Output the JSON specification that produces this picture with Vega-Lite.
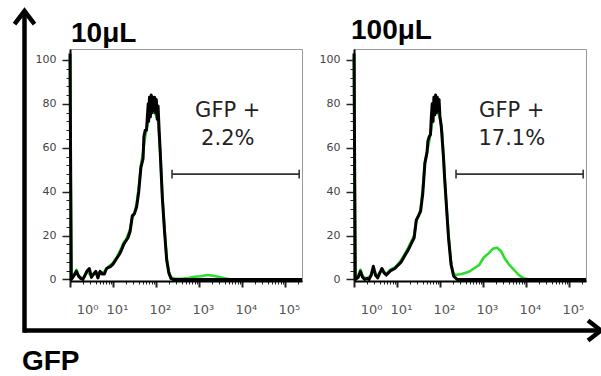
{
  "$schema": "https://vega.github.io/schema/vega-lite/v6.json",
  "padding": {"left": 5, "top": 1, "right": 0, "bottom": 0},
  "bounds": "flush",
  "spacing": 52,
  "config": {
    "view": {"stroke": "#999", "strokeWidth": 1},
    "font": "DejaVu Sans",
    "axis": {"labelOverlap": false},
    "title": {"font": "Liberation Sans", "fontSize": 28, "fontWeight": "bold", "color": "black", "anchor": "start", "frame": "group", "dx": 1, "offset": 4}
  },
  "datasets": {
    "hist": [
      {"panel": "10μL", "tube": "Control", "GFP": 1, "count": 103},
      {"panel": "10μL", "tube": "Control", "GFP": 1.072, "count": 0},
      {"panel": "10μL", "tube": "Control", "GFP": 1.259, "count": 2},
      {"panel": "10μL", "tube": "Control", "GFP": 1.413, "count": 3.7},
      {"panel": "10μL", "tube": "Control", "GFP": 1.585, "count": 1.5},
      {"panel": "10μL", "tube": "Control", "GFP": 1.778, "count": 0.5},
      {"panel": "10μL", "tube": "Control", "GFP": 1.995, "count": 0},
      {"panel": "10μL", "tube": "Control", "GFP": 2.239, "count": 2},
      {"panel": "10μL", "tube": "Control", "GFP": 2.512, "count": 4},
      {"panel": "10μL", "tube": "Control", "GFP": 2.818, "count": 5},
      {"panel": "10μL", "tube": "Control", "GFP": 3.162, "count": 1},
      {"panel": "10μL", "tube": "Control", "GFP": 3.548, "count": 2.5},
      {"panel": "10μL", "tube": "Control", "GFP": 3.981, "count": 3.7},
      {"panel": "10μL", "tube": "Control", "GFP": 4.467, "count": 0.7},
      {"panel": "10μL", "tube": "Control", "GFP": 5.012, "count": 3.7},
      {"panel": "10μL", "tube": "Control", "GFP": 5.623, "count": 2.5},
      {"panel": "10μL", "tube": "Control", "GFP": 6.31, "count": 2.5},
      {"panel": "10μL", "tube": "Control", "GFP": 7.079, "count": 5},
      {"panel": "10μL", "tube": "Control", "GFP": 7.943, "count": 5.5},
      {"panel": "10μL", "tube": "Control", "GFP": 8.913, "count": 6},
      {"panel": "10μL", "tube": "Control", "GFP": 10, "count": 7},
      {"panel": "10μL", "tube": "Control", "GFP": 11.22, "count": 8.5},
      {"panel": "10μL", "tube": "Control", "GFP": 12.59, "count": 10},
      {"panel": "10μL", "tube": "Control", "GFP": 14.13, "count": 11.5},
      {"panel": "10μL", "tube": "Control", "GFP": 15.85, "count": 13.5},
      {"panel": "10μL", "tube": "Control", "GFP": 17.78, "count": 16},
      {"panel": "10μL", "tube": "Control", "GFP": 19.95, "count": 17.5},
      {"panel": "10μL", "tube": "Control", "GFP": 22.39, "count": 19},
      {"panel": "10μL", "tube": "Control", "GFP": 25.12, "count": 22},
      {"panel": "10μL", "tube": "Control", "GFP": 28.18, "count": 29},
      {"panel": "10μL", "tube": "Control", "GFP": 31.62, "count": 30},
      {"panel": "10μL", "tube": "Control", "GFP": 35.48, "count": 33},
      {"panel": "10μL", "tube": "Control", "GFP": 39.81, "count": 40},
      {"panel": "10μL", "tube": "Control", "GFP": 44.67, "count": 51},
      {"panel": "10μL", "tube": "Control", "GFP": 50.12, "count": 55},
      {"panel": "10μL", "tube": "Control", "GFP": 52.48, "count": 65},
      {"panel": "10μL", "tube": "Control", "GFP": 56.23, "count": 68},
      {"panel": "10μL", "tube": "Control", "GFP": 60.26, "count": 68},
      {"panel": "10μL", "tube": "Control", "GFP": 63.1, "count": 74},
      {"panel": "10μL", "tube": "Control", "GFP": 66.07, "count": 80},
      {"panel": "10μL", "tube": "Control", "GFP": 67.61, "count": 72},
      {"panel": "10μL", "tube": "Control", "GFP": 70.79, "count": 83},
      {"panel": "10μL", "tube": "Control", "GFP": 74.13, "count": 74},
      {"panel": "10μL", "tube": "Control", "GFP": 77.62, "count": 84},
      {"panel": "10μL", "tube": "Control", "GFP": 81.28, "count": 76},
      {"panel": "10μL", "tube": "Control", "GFP": 85.11, "count": 83},
      {"panel": "10μL", "tube": "Control", "GFP": 89.13, "count": 77},
      {"panel": "10μL", "tube": "Control", "GFP": 93.33, "count": 83},
      {"panel": "10μL", "tube": "Control", "GFP": 97.72, "count": 76},
      {"panel": "10μL", "tube": "Control", "GFP": 102.3, "count": 82},
      {"panel": "10μL", "tube": "Control", "GFP": 107.2, "count": 73},
      {"panel": "10μL", "tube": "Control", "GFP": 112.2, "count": 79},
      {"panel": "10μL", "tube": "Control", "GFP": 117.5, "count": 70},
      {"panel": "10μL", "tube": "Control", "GFP": 125.9, "count": 58},
      {"panel": "10μL", "tube": "Control", "GFP": 141.3, "count": 37},
      {"panel": "10μL", "tube": "Control", "GFP": 158.5, "count": 22},
      {"panel": "10μL", "tube": "Control", "GFP": 177.8, "count": 9},
      {"panel": "10μL", "tube": "Control", "GFP": 199.5, "count": 3},
      {"panel": "10μL", "tube": "Control", "GFP": 223.9, "count": 0.5},
      {"panel": "10μL", "tube": "Control", "GFP": 251.2, "count": 0},
      {"panel": "10μL", "tube": "Control", "GFP": 251189, "count": 0},

      {"panel": "10μL", "tube": "Sample", "GFP": 1, "count": 101},
      {"panel": "10μL", "tube": "Sample", "GFP": 1.072, "count": 0},
      {"panel": "10μL", "tube": "Sample", "GFP": 1.259, "count": 2.5},
      {"panel": "10μL", "tube": "Sample", "GFP": 1.413, "count": 4.5},
      {"panel": "10μL", "tube": "Sample", "GFP": 1.585, "count": 1.5},
      {"panel": "10μL", "tube": "Sample", "GFP": 1.995, "count": 0.3},
      {"panel": "10μL", "tube": "Sample", "GFP": 2.512, "count": 3.5},
      {"panel": "10μL", "tube": "Sample", "GFP": 3.162, "count": 1.5},
      {"panel": "10μL", "tube": "Sample", "GFP": 3.981, "count": 3},
      {"panel": "10μL", "tube": "Sample", "GFP": 5.012, "count": 3},
      {"panel": "10μL", "tube": "Sample", "GFP": 6.31, "count": 3.5},
      {"panel": "10μL", "tube": "Sample", "GFP": 7.943, "count": 6},
      {"panel": "10μL", "tube": "Sample", "GFP": 10, "count": 7.5},
      {"panel": "10μL", "tube": "Sample", "GFP": 12.59, "count": 10.5},
      {"panel": "10μL", "tube": "Sample", "GFP": 15.85, "count": 14.5},
      {"panel": "10μL", "tube": "Sample", "GFP": 17.78, "count": 17},
      {"panel": "10μL", "tube": "Sample", "GFP": 19.95, "count": 18},
      {"panel": "10μL", "tube": "Sample", "GFP": 25.12, "count": 23},
      {"panel": "10μL", "tube": "Sample", "GFP": 28.18, "count": 28},
      {"panel": "10μL", "tube": "Sample", "GFP": 31.62, "count": 30},
      {"panel": "10μL", "tube": "Sample", "GFP": 35.48, "count": 34.5},
      {"panel": "10μL", "tube": "Sample", "GFP": 39.81, "count": 42},
      {"panel": "10μL", "tube": "Sample", "GFP": 44.67, "count": 52},
      {"panel": "10μL", "tube": "Sample", "GFP": 50.12, "count": 58},
      {"panel": "10μL", "tube": "Sample", "GFP": 56.23, "count": 65},
      {"panel": "10μL", "tube": "Sample", "GFP": 63.1, "count": 70},
      {"panel": "10μL", "tube": "Sample", "GFP": 70.79, "count": 78},
      {"panel": "10μL", "tube": "Sample", "GFP": 79.43, "count": 77},
      {"panel": "10μL", "tube": "Sample", "GFP": 89.13, "count": 76},
      {"panel": "10μL", "tube": "Sample", "GFP": 100, "count": 75},
      {"panel": "10μL", "tube": "Sample", "GFP": 112.2, "count": 72},
      {"panel": "10μL", "tube": "Sample", "GFP": 125.9, "count": 58},
      {"panel": "10μL", "tube": "Sample", "GFP": 141.3, "count": 38},
      {"panel": "10μL", "tube": "Sample", "GFP": 158.5, "count": 23},
      {"panel": "10μL", "tube": "Sample", "GFP": 177.8, "count": 10},
      {"panel": "10μL", "tube": "Sample", "GFP": 199.5, "count": 3.5},
      {"panel": "10μL", "tube": "Sample", "GFP": 223.9, "count": 1},
      {"panel": "10μL", "tube": "Sample", "GFP": 281.8, "count": 0.3},
      {"panel": "10μL", "tube": "Sample", "GFP": 398.1, "count": 0.3},
      {"panel": "10μL", "tube": "Sample", "GFP": 562.3, "count": 0.6},
      {"panel": "10μL", "tube": "Sample", "GFP": 794.3, "count": 1.2},
      {"panel": "10μL", "tube": "Sample", "GFP": 1122, "count": 1.5},
      {"panel": "10μL", "tube": "Sample", "GFP": 1585, "count": 2},
      {"panel": "10μL", "tube": "Sample", "GFP": 1995, "count": 1.8},
      {"panel": "10μL", "tube": "Sample", "GFP": 2818, "count": 1.2},
      {"panel": "10μL", "tube": "Sample", "GFP": 3981, "count": 0.5},
      {"panel": "10μL", "tube": "Sample", "GFP": 5623, "count": 0},
      {"panel": "10μL", "tube": "Sample", "GFP": 251189, "count": 0},

      {"panel": "100μL", "tube": "Control", "GFP": 1, "count": 103},
      {"panel": "100μL", "tube": "Control", "GFP": 1.072, "count": 0},
      {"panel": "100μL", "tube": "Control", "GFP": 1.259, "count": 1},
      {"panel": "100μL", "tube": "Control", "GFP": 1.413, "count": 3.7},
      {"panel": "100μL", "tube": "Control", "GFP": 1.585, "count": 1},
      {"panel": "100μL", "tube": "Control", "GFP": 1.778, "count": 0},
      {"panel": "100μL", "tube": "Control", "GFP": 1.995, "count": 0.5},
      {"panel": "100μL", "tube": "Control", "GFP": 2.239, "count": 0},
      {"panel": "100μL", "tube": "Control", "GFP": 2.512, "count": 2},
      {"panel": "100μL", "tube": "Control", "GFP": 2.818, "count": 6},
      {"panel": "100μL", "tube": "Control", "GFP": 3.162, "count": 2},
      {"panel": "100μL", "tube": "Control", "GFP": 3.548, "count": 0.7},
      {"panel": "100μL", "tube": "Control", "GFP": 3.981, "count": 3},
      {"panel": "100μL", "tube": "Control", "GFP": 4.467, "count": 5},
      {"panel": "100μL", "tube": "Control", "GFP": 5.012, "count": 3},
      {"panel": "100μL", "tube": "Control", "GFP": 5.623, "count": 2},
      {"panel": "100μL", "tube": "Control", "GFP": 6.31, "count": 3},
      {"panel": "100μL", "tube": "Control", "GFP": 7.079, "count": 4},
      {"panel": "100μL", "tube": "Control", "GFP": 7.943, "count": 4.5},
      {"panel": "100μL", "tube": "Control", "GFP": 8.913, "count": 5},
      {"panel": "100μL", "tube": "Control", "GFP": 10, "count": 6},
      {"panel": "100μL", "tube": "Control", "GFP": 11.22, "count": 7},
      {"panel": "100μL", "tube": "Control", "GFP": 12.59, "count": 8},
      {"panel": "100μL", "tube": "Control", "GFP": 14.13, "count": 9.8},
      {"panel": "100μL", "tube": "Control", "GFP": 15.85, "count": 11.5},
      {"panel": "100μL", "tube": "Control", "GFP": 17.78, "count": 13},
      {"panel": "100μL", "tube": "Control", "GFP": 19.95, "count": 15},
      {"panel": "100μL", "tube": "Control", "GFP": 22.39, "count": 17},
      {"panel": "100μL", "tube": "Control", "GFP": 25.12, "count": 19},
      {"panel": "100μL", "tube": "Control", "GFP": 28.18, "count": 27},
      {"panel": "100μL", "tube": "Control", "GFP": 31.62, "count": 29},
      {"panel": "100μL", "tube": "Control", "GFP": 35.48, "count": 31},
      {"panel": "100μL", "tube": "Control", "GFP": 39.81, "count": 39},
      {"panel": "100μL", "tube": "Control", "GFP": 44.67, "count": 53},
      {"panel": "100μL", "tube": "Control", "GFP": 50.12, "count": 58},
      {"panel": "100μL", "tube": "Control", "GFP": 52.48, "count": 63},
      {"panel": "100μL", "tube": "Control", "GFP": 56.23, "count": 65},
      {"panel": "100μL", "tube": "Control", "GFP": 60.26, "count": 66},
      {"panel": "100μL", "tube": "Control", "GFP": 63.1, "count": 74},
      {"panel": "100μL", "tube": "Control", "GFP": 66.07, "count": 80},
      {"panel": "100μL", "tube": "Control", "GFP": 69.18, "count": 72},
      {"panel": "100μL", "tube": "Control", "GFP": 72.44, "count": 83},
      {"panel": "100μL", "tube": "Control", "GFP": 75.86, "count": 75},
      {"panel": "100μL", "tube": "Control", "GFP": 79.43, "count": 84},
      {"panel": "100μL", "tube": "Control", "GFP": 83.18, "count": 76},
      {"panel": "100μL", "tube": "Control", "GFP": 87.1, "count": 83},
      {"panel": "100μL", "tube": "Control", "GFP": 91.2, "count": 77},
      {"panel": "100μL", "tube": "Control", "GFP": 95.5, "count": 82},
      {"panel": "100μL", "tube": "Control", "GFP": 100, "count": 74},
      {"panel": "100μL", "tube": "Control", "GFP": 107.2, "count": 70},
      {"panel": "100μL", "tube": "Control", "GFP": 114.8, "count": 62},
      {"panel": "100μL", "tube": "Control", "GFP": 121.6, "count": 55},
      {"panel": "100μL", "tube": "Control", "GFP": 128.8, "count": 46},
      {"panel": "100μL", "tube": "Control", "GFP": 138, "count": 37},
      {"panel": "100μL", "tube": "Control", "GFP": 158.5, "count": 19},
      {"panel": "100μL", "tube": "Control", "GFP": 182, "count": 6.7},
      {"panel": "100μL", "tube": "Control", "GFP": 208.9, "count": 1.5},
      {"panel": "100μL", "tube": "Control", "GFP": 251.2, "count": 0},
      {"panel": "100μL", "tube": "Control", "GFP": 251189, "count": 0},

      {"panel": "100μL", "tube": "Sample", "GFP": 1, "count": 101},
      {"panel": "100μL", "tube": "Sample", "GFP": 1.072, "count": 0},
      {"panel": "100μL", "tube": "Sample", "GFP": 1.259, "count": 2},
      {"panel": "100μL", "tube": "Sample", "GFP": 1.413, "count": 4.5},
      {"panel": "100μL", "tube": "Sample", "GFP": 1.585, "count": 1.5},
      {"panel": "100μL", "tube": "Sample", "GFP": 1.995, "count": 0.3},
      {"panel": "100μL", "tube": "Sample", "GFP": 2.512, "count": 2},
      {"panel": "100μL", "tube": "Sample", "GFP": 2.818, "count": 5},
      {"panel": "100μL", "tube": "Sample", "GFP": 3.548, "count": 1},
      {"panel": "100μL", "tube": "Sample", "GFP": 4.467, "count": 4.5},
      {"panel": "100μL", "tube": "Sample", "GFP": 5.623, "count": 2.5},
      {"panel": "100μL", "tube": "Sample", "GFP": 7.079, "count": 4.5},
      {"panel": "100μL", "tube": "Sample", "GFP": 8.913, "count": 5.5},
      {"panel": "100μL", "tube": "Sample", "GFP": 11.22, "count": 7.5},
      {"panel": "100μL", "tube": "Sample", "GFP": 14.13, "count": 10.5},
      {"panel": "100μL", "tube": "Sample", "GFP": 17.78, "count": 14},
      {"panel": "100μL", "tube": "Sample", "GFP": 19.95, "count": 16},
      {"panel": "100μL", "tube": "Sample", "GFP": 25.12, "count": 20},
      {"panel": "100μL", "tube": "Sample", "GFP": 28.18, "count": 27},
      {"panel": "100μL", "tube": "Sample", "GFP": 31.62, "count": 29},
      {"panel": "100μL", "tube": "Sample", "GFP": 35.48, "count": 32},
      {"panel": "100μL", "tube": "Sample", "GFP": 39.81, "count": 41},
      {"panel": "100μL", "tube": "Sample", "GFP": 44.67, "count": 53},
      {"panel": "100μL", "tube": "Sample", "GFP": 50.12, "count": 58},
      {"panel": "100μL", "tube": "Sample", "GFP": 56.23, "count": 63},
      {"panel": "100μL", "tube": "Sample", "GFP": 63.1, "count": 69},
      {"panel": "100μL", "tube": "Sample", "GFP": 70.79, "count": 76},
      {"panel": "100μL", "tube": "Sample", "GFP": 79.43, "count": 77},
      {"panel": "100μL", "tube": "Sample", "GFP": 89.13, "count": 76},
      {"panel": "100μL", "tube": "Sample", "GFP": 100, "count": 74},
      {"panel": "100μL", "tube": "Sample", "GFP": 112.2, "count": 67},
      {"panel": "100μL", "tube": "Sample", "GFP": 125.9, "count": 50},
      {"panel": "100μL", "tube": "Sample", "GFP": 141.3, "count": 34},
      {"panel": "100μL", "tube": "Sample", "GFP": 158.5, "count": 20},
      {"panel": "100μL", "tube": "Sample", "GFP": 177.8, "count": 9},
      {"panel": "100μL", "tube": "Sample", "GFP": 199.5, "count": 3.5},
      {"panel": "100μL", "tube": "Sample", "GFP": 223.9, "count": 2},
      {"panel": "100μL", "tube": "Sample", "GFP": 323.6, "count": 2.5},
      {"panel": "100μL", "tube": "Sample", "GFP": 467.7, "count": 3.5},
      {"panel": "100μL", "tube": "Sample", "GFP": 616.6, "count": 5},
      {"panel": "100μL", "tube": "Sample", "GFP": 812.8, "count": 6.5},
      {"panel": "100μL", "tube": "Sample", "GFP": 1047, "count": 10},
      {"panel": "100μL", "tube": "Sample", "GFP": 1380, "count": 12},
      {"panel": "100μL", "tube": "Sample", "GFP": 1698, "count": 14},
      {"panel": "100μL", "tube": "Sample", "GFP": 2138, "count": 14.5},
      {"panel": "100μL", "tube": "Sample", "GFP": 2630, "count": 13},
      {"panel": "100μL", "tube": "Sample", "GFP": 3236, "count": 9.5},
      {"panel": "100μL", "tube": "Sample", "GFP": 3981, "count": 7},
      {"panel": "100μL", "tube": "Sample", "GFP": 5248, "count": 4.5},
      {"panel": "100μL", "tube": "Sample", "GFP": 6918, "count": 2},
      {"panel": "100μL", "tube": "Sample", "GFP": 8913, "count": 0.5},
      {"panel": "100μL", "tube": "Sample", "GFP": 12300, "count": 0},
      {"panel": "100μL", "tube": "Sample", "GFP": 251189, "count": 0}
    ],
    "gates": [
      {"panel": "10μL", "gate": "GFP +", "gateMin": 237, "gateMax": 216000, "percent": "2.2%"},
      {"panel": "100μL", "gate": "GFP +", "gateMin": 237, "gateMax": 216000, "percent": "17.1%"}
    ],
    "axisLabel": [
      {"label": "GFP"}
    ]
  },
  "hconcat": [
    {
      "width": 232,
      "height": 232,
      "title": {"text": "10μL", "offset": -46},
      "layer": [
        {
          "data": {"name": "axisLabel"},
          "mark": {"type": "rule", "color": "black", "strokeWidth": 4.5, "strokeCap": "butt"},
          "encoding": {
            "x": {"datum": 0.0873, "type": "quantitative", "scale": {"type": "log", "domain": [1, 251189], "nice": false}},
            "y": {"datum": 122.3, "type": "quantitative", "scale": {"domain": [-0.7, 105], "nice": false, "zero": false}},
            "y2": {"datum": -24.3}
          }
        },
        {
          "data": {"name": "axisLabel"},
          "mark": {"type": "rule", "color": "black", "strokeWidth": 4.5, "strokeCap": "butt"},
          "encoding": {
            "x": {"datum": 0.0873, "type": "quantitative"},
            "x2": {"datum": 2.29e12},
            "y": {"datum": -23.25, "type": "quantitative"}
          }
        },
        {
          "data": {"name": "axisLabel"},
          "mark": {"type": "point", "shape": "M-1,1.3L0,0L1,1.3", "size": 400, "filled": false, "stroke": "black", "strokeWidth": 4.5, "opacity": 1, "strokeJoin": "miter"},
          "encoding": {
            "x": {"datum": 0.0873, "type": "quantitative"},
            "y": {"datum": 122.3, "type": "quantitative"}
          }
        },
        {
          "data": {"name": "axisLabel"},
          "mark": {"type": "point", "shape": "M-1.3,-1L0,0L-1.3,1", "size": 400, "filled": false, "stroke": "black", "strokeWidth": 4.5, "opacity": 1, "strokeJoin": "miter"},
          "encoding": {
            "x": {"datum": 2.29e12, "type": "quantitative"},
            "y": {"datum": -23.25, "type": "quantitative"}
          }
        },
        {
          "data": {"name": "axisLabel"},
          "mark": {"type": "text", "font": "Liberation Sans", "fontSize": 28, "fontWeight": "bold", "color": "black", "align": "left", "baseline": "alphabetic"},
          "encoding": {
            "x": {"datum": 0.0763, "type": "quantitative"},
            "y": {"datum": -41.4, "type": "quantitative"},
            "text": {"field": "label"}
          }
        },
        {
          "data": {"name": "hist"},
          "transform": [{"filter": "datum.panel == '10μL' && datum.tube == 'Sample'"}],
          "mark": {"type": "line", "color": "#2edc2e", "strokeWidth": 2.6, "strokeJoin": "round"},
          "encoding": {
            "x": {"field": "GFP", "type": "quantitative", "scale": {"type": "log", "domain": [1, 251189], "nice": false},
              "axis": {"title": null, "grid": false, "tickCount": 200, "values": [1,2,3,4,5,6,7,8,9,10,20,30,40,50,60,70,80,90,100,200,300,400,500,600,700,800,900,1000,2000,3000,4000,5000,6000,7000,8000,9000,10000,20000,30000,40000,50000,60000,70000,80000,90000,100000,200000],
                "labelExpr": "datum.value == 1 ? '10⁰' : datum.value == 10 ? '10¹' : datum.value == 100 ? '10²' : datum.value == 1000 ? '10³' : datum.value == 10000 ? '10⁴' : datum.value == 100000 ? '10⁵' : ''",
                "labelOverlap": false, "labelFlush": false, "labelBound": false,
                "labelOffset": {"condition": {"test": "datum.value == 1", "value": 17}, "value": 4},
                "tickSize": {"condition": {"test": "datum.value == 1 || datum.value == 10 || datum.value == 100 || datum.value == 1000 || datum.value == 10000 || datum.value == 100000", "value": 6}, "value": 3},
                "tickWidth": {"condition": {"test": "datum.value == 1 || datum.value == 10 || datum.value == 100 || datum.value == 1000 || datum.value == 10000 || datum.value == 100000", "value": 2}, "value": 1},
                "tickColor": "#222", "domainColor": "black", "domainWidth": 2,
                "labelFont": "DejaVu Sans", "labelFontSize": 13, "labelColor": "#555", "labelPadding": 16}},
            "y": {"field": "count", "type": "quantitative", "scale": {"domain": [-0.7, 105], "nice": false, "zero": false},
              "axis": {"title": null, "grid": false, "tickCount": 200, "format": "d", "values": [0,4,8,12,16,20,24,28,32,36,40,44,48,52,56,60,64,68,72,76,80,84,88,92,96,100],
                "labelExpr": "(datum.value == 0 || datum.value == 20 || datum.value == 40 || datum.value == 60 || datum.value == 80 || datum.value == 100) ? datum.label : ''",
                "labelFontSize": {"condition": {"test": "datum.value == 0 || datum.value == 20 || datum.value == 40 || datum.value == 60 || datum.value == 80 || datum.value == 100", "value": 11}, "value": 0},
                "labelOverlap": false, "labelFlush": false, "labelBound": false,
                "tickSize": {"condition": {"test": "datum.value == 0 || datum.value == 20 || datum.value == 40 || datum.value == 60 || datum.value == 80 || datum.value == 100", "value": 8}, "value": 4},
                "tickWidth": {"condition": {"test": "datum.value == 0 || datum.value == 20 || datum.value == 40 || datum.value == 60 || datum.value == 80 || datum.value == 100", "value": 1.5}, "value": 1},
                "tickColor": "#222", "domainColor": "black", "domainWidth": 2,
                "labelFont": "DejaVu Sans", "labelColor": "#444", "labelPadding": 6}}
          }
        },
        {
          "data": {"name": "hist"},
          "transform": [{"filter": "datum.panel == '10μL' && datum.tube == 'Control'"}],
          "mark": {"type": "line", "color": "black", "strokeWidth": 3, "strokeJoin": "round"},
          "encoding": {
            "x": {"field": "GFP", "type": "quantitative"},
            "y": {"field": "count", "type": "quantitative"}
          }
        },
        {
          "data": {"name": "gates"},
          "transform": [{"filter": "datum.panel == '10μL'"}],
          "mark": {"type": "rule", "color": "#333", "strokeWidth": 1.6},
          "encoding": {
            "x": {"field": "gateMin", "type": "quantitative"},
            "x2": {"field": "gateMax"},
            "y": {"datum": 48, "type": "quantitative"}
          }
        },
        {
          "data": {"name": "gates"},
          "transform": [{"filter": "datum.panel == '10μL'"}],
          "mark": {"type": "rule", "color": "#333", "strokeWidth": 1.6},
          "encoding": {
            "x": {"field": "gateMin", "type": "quantitative"},
            "y": {"datum": 46, "type": "quantitative"},
            "y2": {"datum": 50}
          }
        },
        {
          "data": {"name": "gates"},
          "transform": [{"filter": "datum.panel == '10μL'"}],
          "mark": {"type": "rule", "color": "#333", "strokeWidth": 1.6},
          "encoding": {
            "x": {"field": "gateMax", "type": "quantitative"},
            "y": {"datum": 46, "type": "quantitative"},
            "y2": {"datum": 50}
          }
        },
        {
          "data": {"name": "gates"},
          "transform": [{"filter": "datum.panel == '10μL'"}],
          "mark": {"type": "text", "font": "DejaVu Sans", "fontSize": 21, "color": "#222", "align": "center", "baseline": "alphabetic"},
          "encoding": {
            "x": {"datum": 4700, "type": "quantitative"},
            "y": {"datum": 74, "type": "quantitative"},
            "text": {"field": "gate"}
          }
        },
        {
          "data": {"name": "gates"},
          "transform": [{"filter": "datum.panel == '10μL'"}],
          "mark": {"type": "text", "font": "DejaVu Sans", "fontSize": 21, "color": "#222", "align": "center", "baseline": "alphabetic"},
          "encoding": {
            "x": {"datum": 4700, "type": "quantitative"},
            "y": {"datum": 61.2, "type": "quantitative"},
            "text": {"field": "percent"}
          }
        }
      ]
    },
    {
      "width": 232,
      "height": 232,
      "title": {"text": "100μL", "dx": -3},
      "layer": [
        {
          "data": {"name": "hist"},
          "transform": [{"filter": "datum.panel == '100μL' && datum.tube == 'Sample'"}],
          "mark": {"type": "line", "color": "#2edc2e", "strokeWidth": 2.6, "strokeJoin": "round"},
          "encoding": {
            "x": {"field": "GFP", "type": "quantitative", "scale": {"type": "log", "domain": [1, 251189], "nice": false},
              "axis": {"title": null, "grid": false, "tickCount": 200, "values": [1,2,3,4,5,6,7,8,9,10,20,30,40,50,60,70,80,90,100,200,300,400,500,600,700,800,900,1000,2000,3000,4000,5000,6000,7000,8000,9000,10000,20000,30000,40000,50000,60000,70000,80000,90000,100000,200000],
                "labelExpr": "datum.value == 1 ? '10⁰' : datum.value == 10 ? '10¹' : datum.value == 100 ? '10²' : datum.value == 1000 ? '10³' : datum.value == 10000 ? '10⁴' : datum.value == 100000 ? '10⁵' : ''",
                "labelOverlap": false, "labelFlush": false, "labelBound": false,
                "labelOffset": {"condition": {"test": "datum.value == 1", "value": 17}, "value": 4},
                "tickSize": {"condition": {"test": "datum.value == 1 || datum.value == 10 || datum.value == 100 || datum.value == 1000 || datum.value == 10000 || datum.value == 100000", "value": 6}, "value": 3},
                "tickWidth": {"condition": {"test": "datum.value == 1 || datum.value == 10 || datum.value == 100 || datum.value == 1000 || datum.value == 10000 || datum.value == 100000", "value": 2}, "value": 1},
                "tickColor": "#222", "domainColor": "black", "domainWidth": 2,
                "labelFont": "DejaVu Sans", "labelFontSize": 13, "labelColor": "#555", "labelPadding": 16}},
            "y": {"field": "count", "type": "quantitative", "scale": {"domain": [-0.7, 105], "nice": false, "zero": false},
              "axis": {"title": null, "grid": false, "tickCount": 200, "format": "d", "values": [0,4,8,12,16,20,24,28,32,36,40,44,48,52,56,60,64,68,72,76,80,84,88,92,96,100],
                "labelExpr": "(datum.value == 0 || datum.value == 20 || datum.value == 40 || datum.value == 60 || datum.value == 80 || datum.value == 100) ? datum.label : ''",
                "labelFontSize": {"condition": {"test": "datum.value == 0 || datum.value == 20 || datum.value == 40 || datum.value == 60 || datum.value == 80 || datum.value == 100", "value": 11}, "value": 0},
                "labelOverlap": false, "labelFlush": false, "labelBound": false,
                "tickSize": {"condition": {"test": "datum.value == 0 || datum.value == 20 || datum.value == 40 || datum.value == 60 || datum.value == 80 || datum.value == 100", "value": 8}, "value": 4},
                "tickWidth": {"condition": {"test": "datum.value == 0 || datum.value == 20 || datum.value == 40 || datum.value == 60 || datum.value == 80 || datum.value == 100", "value": 1.5}, "value": 1},
                "tickColor": "#222", "domainColor": "black", "domainWidth": 2,
                "labelFont": "DejaVu Sans", "labelColor": "#444", "labelPadding": 6}}
          }
        },
        {
          "data": {"name": "hist"},
          "transform": [{"filter": "datum.panel == '100μL' && datum.tube == 'Control'"}],
          "mark": {"type": "line", "color": "black", "strokeWidth": 3, "strokeJoin": "round"},
          "encoding": {
            "x": {"field": "GFP", "type": "quantitative"},
            "y": {"field": "count", "type": "quantitative"}
          }
        },
        {
          "data": {"name": "gates"},
          "transform": [{"filter": "datum.panel == '100μL'"}],
          "mark": {"type": "rule", "color": "#333", "strokeWidth": 1.6},
          "encoding": {
            "x": {"field": "gateMin", "type": "quantitative"},
            "x2": {"field": "gateMax"},
            "y": {"datum": 48, "type": "quantitative"}
          }
        },
        {
          "data": {"name": "gates"},
          "transform": [{"filter": "datum.panel == '100μL'"}],
          "mark": {"type": "rule", "color": "#333", "strokeWidth": 1.6},
          "encoding": {
            "x": {"field": "gateMin", "type": "quantitative"},
            "y": {"datum": 46, "type": "quantitative"},
            "y2": {"datum": 50}
          }
        },
        {
          "data": {"name": "gates"},
          "transform": [{"filter": "datum.panel == '100μL'"}],
          "mark": {"type": "rule", "color": "#333", "strokeWidth": 1.6},
          "encoding": {
            "x": {"field": "gateMax", "type": "quantitative"},
            "y": {"datum": 46, "type": "quantitative"},
            "y2": {"datum": 50}
          }
        },
        {
          "data": {"name": "gates"},
          "transform": [{"filter": "datum.panel == '100μL'"}],
          "mark": {"type": "text", "font": "DejaVu Sans", "fontSize": 21, "color": "#222", "align": "center", "baseline": "alphabetic"},
          "encoding": {
            "x": {"datum": 4700, "type": "quantitative"},
            "y": {"datum": 74, "type": "quantitative"},
            "text": {"field": "gate"}
          }
        },
        {
          "data": {"name": "gates"},
          "transform": [{"filter": "datum.panel == '100μL'"}],
          "mark": {"type": "text", "font": "DejaVu Sans", "fontSize": 21, "color": "#222", "align": "center", "baseline": "alphabetic"},
          "encoding": {
            "x": {"datum": 4700, "type": "quantitative"},
            "y": {"datum": 61.2, "type": "quantitative"},
            "text": {"field": "percent"}
          }
        }
      ]
    }
  ]
}
